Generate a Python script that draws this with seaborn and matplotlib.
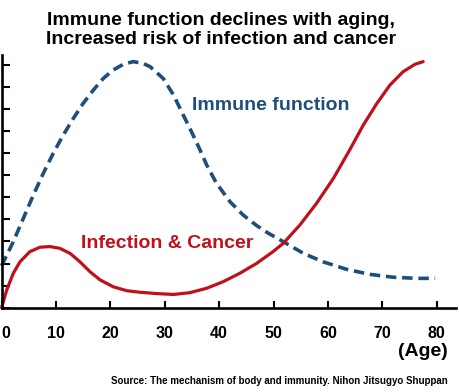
import matplotlib
matplotlib.use("Agg")
import matplotlib.pyplot as plt
import seaborn as sns
import pandas as pd

# Data
immune_age = [0.0, 2.15, 4.0, 5.83, 7.67, 9.5, 11.35, 13.2, 15.0, 16.86, 18.7, 20.5, 22.4,
              24.2, 26.0, 27.3, 29.7, 31.6, 33.1, 34.6, 36.2, 37.7, 39.5, 42.0, 44.4,
              46.9, 49.0, 51.8, 55.5, 59.1, 63.4, 67.7, 72.0, 76.3, 79.7]
immune_val = [1.9, 2.99, 4.05, 5.1, 6.09, 7.0, 7.83, 8.58, 9.26, 9.86, 10.39, 10.77, 11.03,
              11.15, 11.07, 10.92, 10.39, 9.64, 8.88, 8.13, 7.3, 6.47, 5.64, 4.8, 4.2,
              3.72, 3.38, 2.99, 2.46, 2.08, 1.74, 1.51, 1.38, 1.33, 1.33]

infect_age = [0.0, 0.94, 2.15, 3.38, 5.2, 7.06, 8.9, 10.7, 12.6, 14.4, 16.25, 18.1, 20.5,
              23.0, 25.4, 28.5, 31.6, 34.6, 37.7, 40.75, 43.8, 46.9, 49.9, 51.8, 54.85,
              57.9, 61.0, 64.0, 66.5, 69.0, 71.4, 73.8, 76.0, 77.5]
infect_val = [0.0, 0.8, 1.56, 2.08, 2.54, 2.74, 2.77, 2.69, 2.46, 2.08, 1.63, 1.26, 0.95,
              0.77, 0.7, 0.64, 0.6, 0.68, 0.88, 1.18, 1.56, 2.01, 2.54, 2.92, 3.75,
              4.73, 5.86, 7.15, 8.28, 9.26, 10.09, 10.69, 11.03, 11.15]

x_ticks = [0, 10, 20, 30, 40, 50, 60, 70, 80]
y_ticks = list(range(0, 12))

title = "Immune function declines with aging,\nIncreased risk of infection and cancer"
immune_label = "Immune function"
infect_label = "Infection & Cancer"
x_label = "(Age)"
source = "Source: The mechanism of body and immunity. Nihon Jitsugyo Shuppan"

BLUE = "#1f4e79"
RED = "#c0101c"

sns.set_theme(style="white")
plt.rcParams["font.family"] = ["Liberation Sans", "DejaVu Sans"]
plt.rcParams["font.weight"] = "bold"
plt.rcParams["text.color"] = "black"
plt.rcParams["xtick.color"] = "black"
plt.rcParams["ytick.color"] = "black"

immune_df = pd.DataFrame({"age": immune_age, "value": immune_val})
infect_df = pd.DataFrame({"age": infect_age, "value": infect_val})

fig = plt.figure(figsize=(4.59, 3.92), dpi=100)
ax = fig.add_axes([1.6 / 459, (392 - 307.7) / 392, 454.2 / 459, 252.7 / 392])

sns.lineplot(data=immune_df, x="age", y="value", ax=ax, color=BLUE, lw=2.6,
             linestyle=(0, (2.9, 1.6)), clip_on=False, solid_joinstyle="round")
sns.lineplot(data=infect_df, x="age", y="value", ax=ax, color=RED, lw=2.3,
             clip_on=False, solid_joinstyle="round", solid_capstyle="round")

ax.set_xlim(0, 83.5)
ax.set_ylim(0, 11.45)
ax.set_xticks(x_ticks)
ax.set_xticklabels([str(t) for t in x_ticks], fontsize=11.5, fontweight="bold",
                   color="black")
ax.get_xticklabels()[0].set_horizontalalignment("left")
ax.set_yticks(y_ticks)
ax.set_yticklabels([])
ax.tick_params(axis="x", direction="in", length=5, width=1.5, pad=13.5, colors="black",
               bottom=True)
ax.tick_params(axis="y", direction="in", length=6, width=1.5, left=True, colors="black")
ax.set_xlabel("")
ax.set_ylabel("")

for s in ["top", "right"]:
    ax.spines[s].set_visible(False)
for s in ["left", "bottom"]:
    ax.spines[s].set_color("black")
    ax.spines[s].set_linewidth(1.9)

ax.text(35.0, 9.18, immune_label, color=BLUE, fontsize=14, fontweight="bold",
        ha="left", va="center")
ax.text(14.6, 2.93, infect_label, color=RED, fontsize=14, fontweight="bold",
        ha="left", va="center")

fig.text(221 / 459, 1 - 30 / 392, title, ha="center", va="center", fontsize=14,
         fontweight="bold", linespacing=1.2, color="black")
fig.text(448 / 459, 1 - 352 / 392, x_label, ha="right", va="center", fontsize=14,
         fontweight="bold", color="black")
fig.text(448 / 459, 1 - 381 / 392, source, ha="right", va="center", fontsize=7,
         fontweight="bold", color="black")

fig.savefig("out.png", dpi=100, facecolor="white")
